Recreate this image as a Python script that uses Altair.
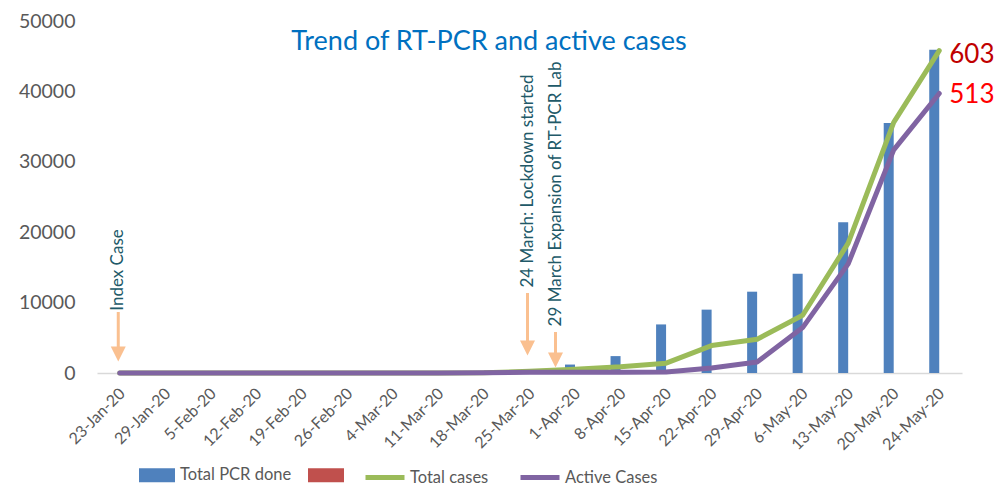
import altair as alt
import pandas as pd

# ---------------- data ----------------
dates = ["23-Jan-20", "29-Jan-20", "5-Feb-20", "12-Feb-20", "19-Feb-20", "26-Feb-20",
         "4-Mar-20", "11-Mar-20", "18-Mar-20", "25-Mar-20", "1-Apr-20", "8-Apr-20",
         "15-Apr-20", "22-Apr-20", "29-Apr-20", "6-May-20", "13-May-20", "20-May-20",
         "24-May-20"]
pcr_done = [0, 0, 0, 0, 0, 0, 0, 0, 60, 300, 1200, 2400, 6900, 9000, 11550, 14100,
            21400, 35500, 45900]
total_cases = [0, 0, 0, 0, 0, 0, 0, 0, 30, 250, 550, 900, 1400, 3900, 4800, 8200,
               18450, 35600, 45800]
active_cases = [0, 0, 0, 0, 0, 0, 0, 0, 20, 100, 100, 100, 150, 700, 1550, 6450,
                15500, 31700, 39700]
end_labels = ["603", "513"]
title_text = "Trend of RT-PCR and active cases"
ann_dates = ["23-Jan-20", "25-Mar-20", "25-Mar-20"]
ann_labels = ["Index Case", "24 March: Lockdown started", "29 March Expansion of RT-PCR Lab"]
bar_series = ["Total PCR done", " "]
line_series = ["Total  cases", "Active Cases"]
y_ticks = [0, 10000, 20000, 30000, 40000, 50000]

# ---------------- styles ----------------
FONT = "Lato"
GRAY = "#595959"
ARROW = "#FAC090"
ANN = "#215968"

bars_df = pd.DataFrame({"date": dates, "value": pcr_done, "series": bar_series[0]})
green_df = pd.DataFrame({"date": dates, "value": total_cases, "series": line_series[0]})
purple_df = pd.DataFrame({"date": dates, "value": active_cases, "series": line_series[1]})

x_enc = alt.X("date:N", sort=dates,
              scale=alt.Scale(domain=dates, paddingInner=0, paddingOuter=0),
              axis=alt.Axis(title=None, labelAngle=-45, labelFont=FONT, labelFontSize=16,
                            labelColor=GRAY, domainColor="#D9D9D9", domainWidth=1.5,
                            ticks=False, labelPadding=12, labelOffset=-3))
y_enc = alt.Y("value:Q", scale=alt.Scale(domain=[0, 50000]),
              axis=alt.Axis(title=None, values=y_ticks, format="d", grid=False,
                            domain=False, ticks=False, labelFont=FONT, labelFontSize=19.5,
                            labelColor=GRAY, labelPadding=22))

bar_legend = alt.Legend(orient="none", legendX=42, legendY=436, direction="horizontal",
                        title=None, symbolType="M-1,-0.39L1,-0.39L1,0.39L-1,0.39Z",
                        symbolSize=1296, symbolStrokeWidth=0, symbolOpacity=1,
                        labelFont=FONT, labelFontSize=16.5, labelColor=GRAY,
                        labelOffset=5, columnPadding=16)
line_legend = alt.Legend(orient="none", legendX=266, legendY=434.5, direction="horizontal",
                         title=None, symbolType="stroke", symbolSize=1521,
                         symbolStrokeWidth=5, symbolOpacity=1,
                         labelFont=FONT, labelFontSize=16.5, labelColor=GRAY,
                         labelOffset=3, columnPadding=17)

bars = alt.Chart(bars_df).mark_bar(width=10, xOffset=-5).encode(
    x=x_enc, y=y_enc,
    color=alt.Color("series:N", scale=alt.Scale(domain=bar_series,
                                                range=["#4F81BD", "#C0504D"]),
                    legend=bar_legend))

stroke_enc = alt.Stroke("series:N", scale=alt.Scale(domain=line_series,
                                                    range=["#9BBB59", "#8064A2"]),
                        legend=line_legend)
green = alt.Chart(green_df).mark_line(strokeWidth=5, strokeCap="round",
                                      strokeJoin="round").encode(
    x=x_enc, y=y_enc, stroke=stroke_enc)
purple = alt.Chart(purple_df).mark_line(strokeWidth=5, strokeCap="round",
                                        strokeJoin="round").encode(
    x=x_enc, y=y_enc, stroke=stroke_enc)

end_green = alt.Chart(pd.DataFrame({"date": [dates[-1]], "value": [total_cases[-1]],
                                    "label": [end_labels[0]]})).mark_text(
    align="left", baseline="middle", dx=10, dy=4, font=FONT, fontSize=26,
    color="#C00000").encode(x=x_enc, y=y_enc, text="label:N")
end_purple = alt.Chart(pd.DataFrame({"date": [dates[-1]], "value": [active_cases[-1]],
                                     "label": [end_labels[1]]})).mark_text(
    align="left", baseline="middle", dx=10, dy=1, font=FONT, fontSize=26,
    color="#FF0000").encode(x=x_enc, y=y_enc, text="label:N")

title = alt.Chart(pd.DataFrame({"t": [title_text]})).mark_text(
    font=FONT, fontSize=27, color="#0070C0", align="center", baseline="middle").encode(
    x=alt.value(392), y=alt.value(21), text="t:N")

# (xOffset, text centre y, shaft top, shaft bottom, head centre)
ann_style = [(-1.5, 249, 291, 327, 333), (-2, 160, 272, 321, 327), (26, 173, 311, 333, 339)]
ann_layers = []
for d, lab, (xo, ty, s0, s1, hy) in zip(ann_dates, ann_labels, ann_style):
    base = alt.Chart(pd.DataFrame({"date": [d], "label": [lab]}))
    ann_layers.append(base.mark_text(angle=270, align="center", baseline="middle",
                                     font=FONT, fontSize=17, color=ANN, xOffset=xo).encode(
        x=x_enc, y=alt.value(ty), text="label:N"))
    ann_layers.append(base.mark_rule(color=ARROW, strokeWidth=3, xOffset=xo).encode(
        x=x_enc, y=alt.value(s0), y2=alt.value(s1)))
    ann_layers.append(base.mark_point(shape="M-1,-1L1,-1L0,1Z", size=225, filled=True,
                                      color=ARROW, opacity=1, xOffset=xo).encode(
        x=x_enc, y=alt.value(hy)))

chart = alt.layer(bars, green, purple, end_green, end_purple, title, *ann_layers).properties(
    width=865, height=352,
    autosize=alt.AutoSizeParams(type="none"),
    padding={"left": 89, "top": 13, "right": 37, "bottom": 112},
).configure_view(stroke=None).resolve_scale(color="independent")

chart.save("out.html", embed_options={"renderer": "svg", "actions": False})
